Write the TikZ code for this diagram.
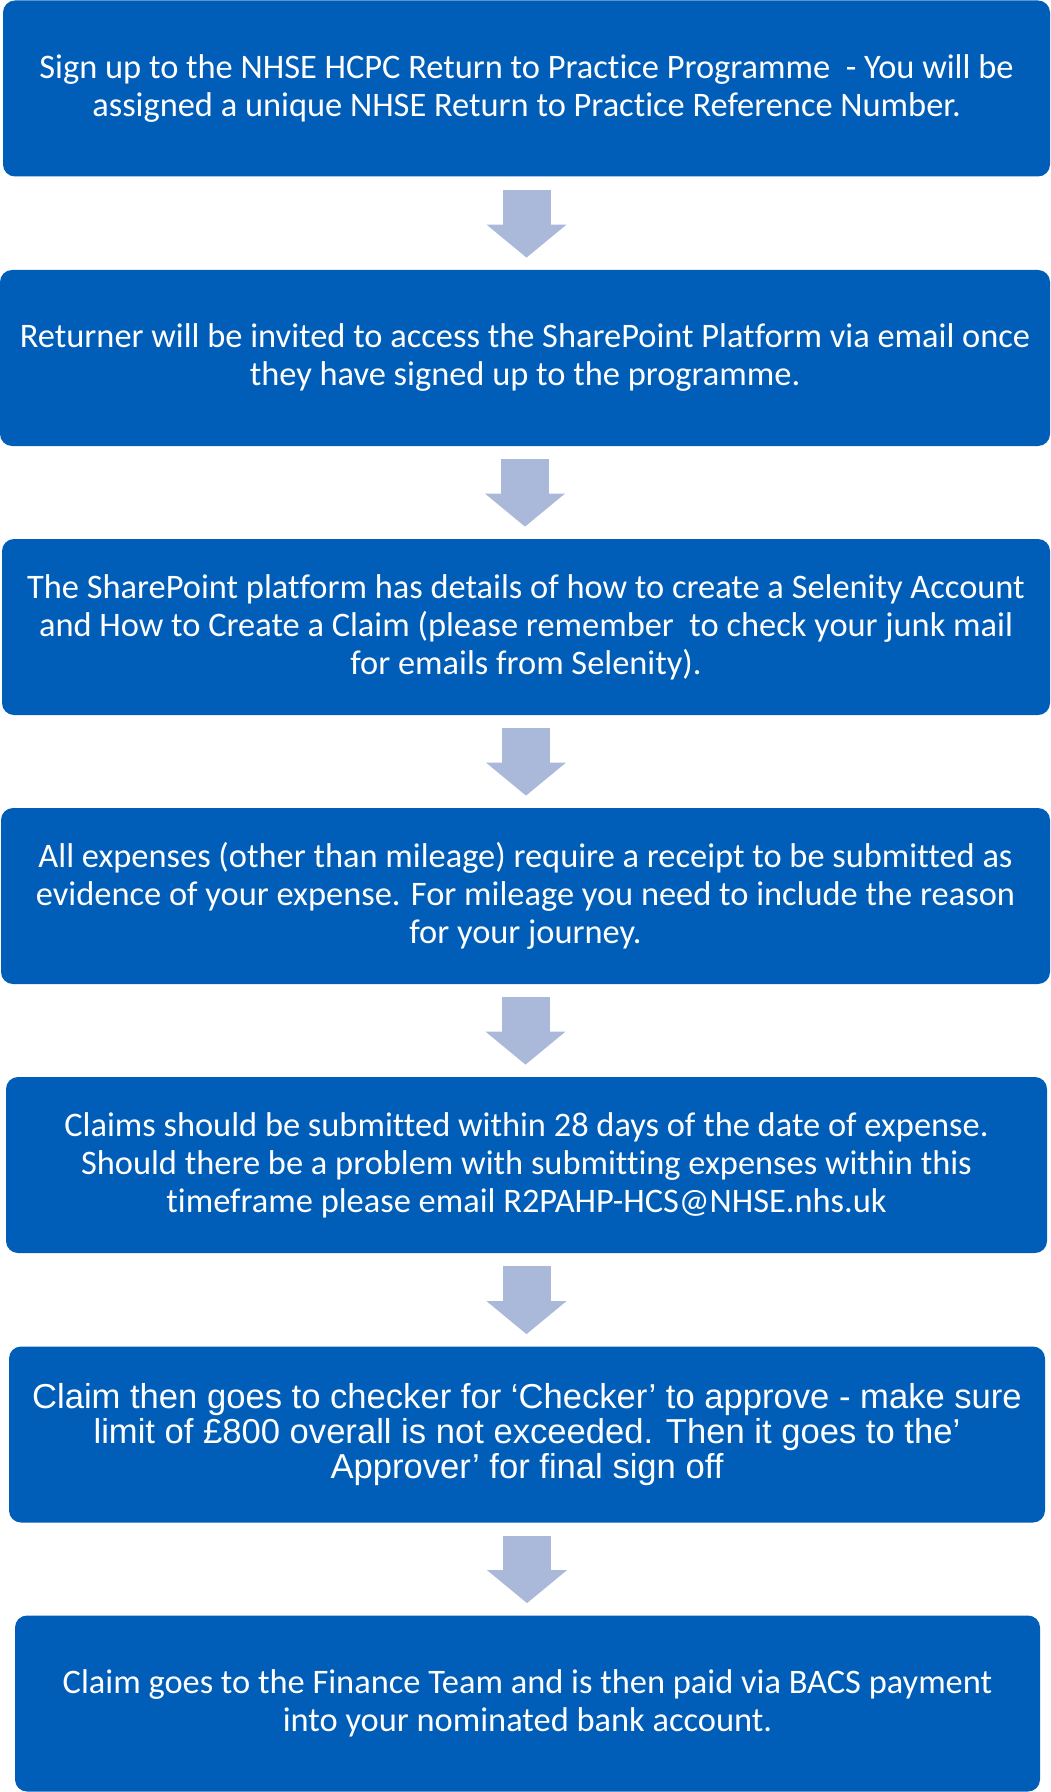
\documentclass[tikz,border=0pt]{standalone}
\usepackage{fontspec}
\setmainfont{Carlito}[Ligatures=NoCommon]
\newfontfamily\arialfont{Liberation Sans}
\usetikzlibrary{arrows.meta}
\definecolor{nhsblue}{RGB}{0,94,184}
\definecolor{arrowblue}{RGB}{170,184,217}
\begin{document}
\begin{tikzpicture}[x=0.5pt,y=-0.5pt,
  stage/.style={fill=nhsblue, rounded corners=6pt, text=white, align=center,
    inner sep=0pt, minimum height=88pt, font=\fontsize{17.2}{19}\selectfont},
  flowarrow/.style={draw=arrowblue, line width=24pt,
    -{Triangle[length=16.5pt,width=40pt,line width=0pt]},
    shorten <=6.5pt, shorten >=6pt}]
\useasboundingbox (0,0) rectangle (1050,1792);

\node[stage, minimum width=523.5pt] (s1) at (526.5,88.5)
  {Sign up to the NHSE HCPC Return to Practice Programme \ - You will be\\
   assigned a unique NHSE Return to Practice Reference Number.};
\node[stage, minimum width=525pt] (s2) at (525,358)
  {Returner will be invited to access the SharePoint Platform via email once\\
   they have signed up to the programme.};
\node[stage, minimum width=524pt] (s3) at (526,627)
  {The SharePoint platform has details of how to create a Selenity Account\\
   and How to Create a Claim (please remember \ to check your junk mail\\
   for emails from Selenity).};
\node[stage, minimum width=524.5pt] (s4) at (525.5,896)
  {All expenses (other than mileage) require a receipt to be submitted as\\
   evidence of your expense. For mileage you need to include the reason\\
   for your journey.};
\node[stage, minimum width=520.5pt] (s5) at (526.5,1165)
  {Claims should be submitted within 28 days of the date of expense.\\
   Should there be a problem with submitting expenses within this\\
   timeframe please email R2PAHP-HCS@NHSE.nhs.uk};
\node[stage, minimum width=518pt, font=\arialfont\fontsize{17.3}{17.7}\selectfont] (s6) at (527,1434.5)
  {Claim then goes to checker for ‘Checker’ to approve - make sure\\
   limit of £800 overall is not exceeded. Then it goes to the’\\
   Approver’ for final sign off};
\node[stage, minimum width=512.5pt] (s7) at (527.5,1703.5)
  {Claim goes to the Finance Team and is then paid via BACS payment\\
   into your nominated bank account.};

\foreach \a/\b in {s1/s2,s2/s3,s3/s4,s4/s5,s5/s6,s6/s7}
  \draw[flowarrow] (\a.south) -- (\a.south |- \b.north);
\end{tikzpicture}
\end{document}
